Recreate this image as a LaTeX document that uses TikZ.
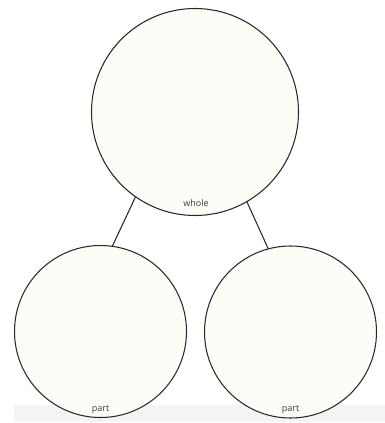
\documentclass[tikz,border=0pt]{standalone}
\usepackage{fontspec}
\setmainfont{Open Sans}
\usepackage{xcolor}
\usetikzlibrary{positioning}
\definecolor{Cream}{RGB}{253,253,247}
\definecolor{RimCol}{RGB}{40,40,40}
\definecolor{TxtCol}{RGB}{60,60,60}
\definecolor{Band}{RGB}{244,244,244}
\tikzset{
  pwdisc/.style={circle, draw=RimCol, fill=Cream, line width=1.05pt, inner sep=0pt},
  pwbig/.style={pwdisc, minimum size=207pt},
  pwsmall/.style={pwdisc, minimum size=172pt},
  pwlink/.style={draw=RimCol, line width=1.05pt},
  pwlab/.style={font=\fontsize{9}{10}\selectfont, text=TxtCol, inner sep=0pt, anchor=base}
}

\begin{document}
\begin{tikzpicture}[x=1pt,y=-1pt]
  \useasboundingbox[fill=white] (0,0) rectangle (385,423);
  \fill[Band] (14,405) rectangle (385,422);
  \node[pwbig] (whole) at (195,112) {};
  \node[pwsmall] (partL) at (100.5,331.5) {};
  \node[pwsmall] (partR) at (290.5,332) {};
  \node[pwlab] (wholeLab) at ([xshift=1pt,yshift=9.5pt]whole.south) {whole};
  \node[pwlab] (partLLab) at ([yshift=7pt]partL.south) {part};
  \node[pwlab] (partRLab) at ([yshift=7pt]partR.south) {part};
  \draw[pwlink] (whole.235) -- (partL.82);
  \draw[pwlink] (whole.300) -- (partR.105);
\end{tikzpicture}
\end{document}
